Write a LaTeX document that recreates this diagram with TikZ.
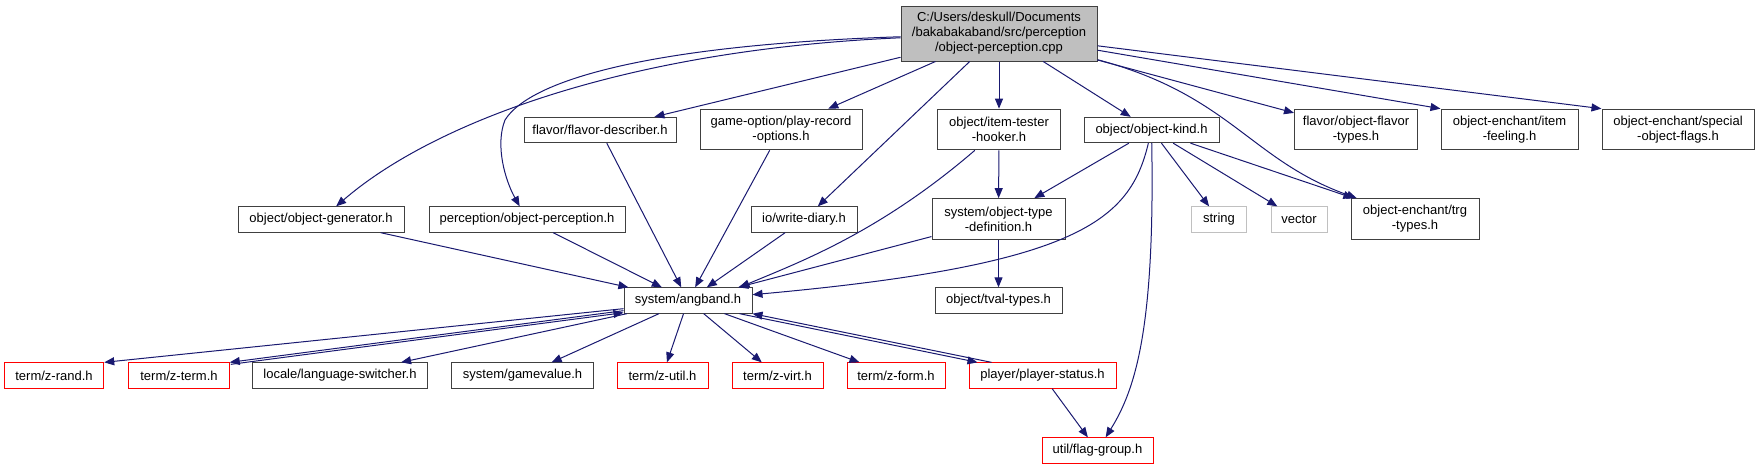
\documentclass[tikz,border=0pt]{standalone}
\usepackage{fontspec}
\setmainfont{Liberation Sans}
\usetikzlibrary{arrows.meta,calc}

\definecolor{edgeblue}{HTML}{191970}
\definecolor{boxgray}{HTML}{404040}
\definecolor{rootfill}{HTML}{BFBFBF}
\definecolor{sysgray}{HTML}{C0C0C0}

\begin{document}
\begin{tikzpicture}[
    x=0.75pt, y=-0.75pt,
    font=\fontsize{9.75}{11.25}\selectfont,
    box/.style={draw=boxgray, line width=0.75pt, fill=white, align=center, minimum height=19pt, inner xsep=2pt, inner ysep=2pt},
    twoline/.style={minimum height=30.5pt},
    rootbox/.style={box, fill=rootfill, minimum height=41.25pt},
    redbox/.style={box, draw=red},
    sysbox/.style={box, draw=sysgray},
    arrow/.style={-{Triangle[length=7.5pt,width=6pt]}, draw=edgeblue, line width=0.75pt}
  ]
    \useasboundingbox (0,0) rectangle (1759,469);

    \node[rootbox, minimum width=147pt] (root) at (999,33.5) {C:/Users/deskull/Documents\\/bakabakaband/src/perception\\/object-perception.cpp};

    \node[box, minimum width=114pt] (fdesc) at (600,130) {flavor/flavor-describer.h};
    \node[box, twoline, minimum width=121.5pt] (precopt) at (781,129.5) {game-option/play-record\\-options.h};
    \node[box, twoline, minimum width=92pt] (itester) at (999,129.5) {object/item-tester\\-hooker.h};
    \node[box, minimum width=101.25pt] (okind) at (1151.5,130) {object/object-kind.h};
    \node[box, twoline, minimum width=92.25pt] (oflavor) at (1356,129.5) {flavor/object-flavor\\-types.h};
    \node[box, twoline, minimum width=102.75pt] (ifeel) at (1509.5,129.5) {object-enchant/item\\-feeling.h};
    \node[box, twoline, minimum width=114pt] (sflags) at (1678,129.5) {object-enchant/special\\-object-flags.h};

    \node[box, minimum width=124.5pt] (ogen) at (321,219.5) {object/object-generator.h};
    \node[box, minimum width=147pt] (operc) at (527,219.5) {perception/object-perception.h};
    \node[box, minimum width=79.5pt] (wdiary) at (804,219.5) {io/write-diary.h};
    \node[box, twoline, minimum width=99.75pt] (otdef) at (998.5,219) {system/object-type\\-definition.h};
    \node[sysbox, minimum width=41.6pt] (strng) at (1219,219.5) {string};
    \node[sysbox, minimum width=42pt] (vect) at (1299,219.5) {vector};
    \node[box, twoline, minimum width=96pt] (trg) at (1415,219) {object-enchant/trg\\-types.h};

    \node[box, minimum width=96pt] (angband) at (688,300.5) {system/angband.h};
    \node[box, minimum width=95.25pt] (tval) at (998.5,300.5) {object/tval-types.h};

    \node[redbox, minimum width=74.6pt] (zrand) at (54,375.5) {term/z-rand.h};
    \node[redbox, minimum width=75.4pt] (zterm) at (179,375.5) {term/z-term.h};
    \node[box, minimum width=131.25pt] (langsw) at (340,375.5) {locale/language-switcher.h};
    \node[box, minimum width=106.5pt] (gameval) at (522.6,375.5) {system/gamevalue.h};
    \node[redbox, minimum width=68.25pt] (zutil) at (662.5,375.5) {term/z-util.h};
    \node[redbox, minimum width=68.25pt] (zvirt) at (777.5,375.5) {term/z-virt.h};
    \node[redbox, minimum width=73.5pt] (zform) at (896,375.5) {term/z-form.h};
    \node[redbox, minimum width=110.25pt] (pstatus) at (1042.5,375.5) {player/player-status.h};
    \node[redbox, minimum width=83.25pt] (flaggrp) at (1097.5,450.5) {util/flag-group.h};

    \draw[arrow] (root) -- (fdesc);
    \draw[arrow] (root) -- (precopt);
    \draw[arrow] (root) -- (wdiary);
    \draw[arrow] (root) -- (itester);
    \draw[arrow] (root) -- (okind);
    \draw[arrow] (root) -- (oflavor);
    \draw[arrow] (root) -- (ifeel.north west);
    \draw[arrow] (root) -- (sflags.north west);
    \draw[arrow] (root) .. controls (620,50) and (430,125) .. (ogen);
    \draw[arrow] (root) .. controls (650,45) and (530,80) .. (505,120) .. controls (495,145) and (505,180) .. (operc);
    \draw[arrow] (root) .. controls (1230,95) and (1250,160) .. (trg);

    \draw[arrow] (itester) -- (otdef);
    \draw[arrow] (itester) .. controls (880,232) and (800,262) .. ($(angband.north east)+(-13,0)$);
    \draw[arrow] (okind) -- (otdef);
    \draw[arrow] (okind) .. controls (1130,220) and (1080,265) .. (angband);
    \draw[arrow] (okind) -- (strng);
    \draw[arrow] (okind) -- (vect);
    \draw[arrow] (okind) -- (trg);
    \draw[arrow] (okind) .. controls (1155,330) and (1135,390) .. (flaggrp);
    \draw[arrow] (otdef) -- (tval);
    \draw[arrow] (otdef) -- (angband);

    \draw[arrow] (ogen) -- (angband);
    \draw[arrow] (operc) -- (angband);
    \draw[arrow] (fdesc) -- (angband);
    \draw[arrow] (precopt) -- (angband);
    \draw[arrow] (wdiary) -- (angband);

    \draw[arrow] ($(angband.south west)+(0,-5)$) -- (zrand.north east);
    \draw[arrow] ($(angband.south west)+(0,-3)$) -- (zterm.north east);
    \draw[arrow] ($(zterm.north east)+(1,2)$) -- ($(angband.south west)+(0,-1)$);
    \draw[arrow] (angband) -- (langsw);
    \draw[arrow] (angband) -- (gameval);
    \draw[arrow] (angband) -- (zutil);
    \draw[arrow] (angband) -- (zvirt);
    \draw[arrow] (angband) -- (zform);
    \draw[arrow] ($(angband.south east)+(-13,0)$) -- ($(pstatus.north west)+(9,0)$);
    \draw[arrow] ($(pstatus.north west)+(23,0)$) -- (angband.south east);
    \draw[arrow] (pstatus) -- (flaggrp);
  \end{tikzpicture}
\end{document}
